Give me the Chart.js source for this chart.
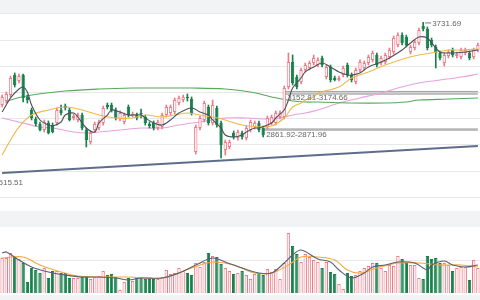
<!DOCTYPE html>
<html>
<head>
<meta charset="utf-8">
<script src="https://cdn.jsdelivr.net/npm/chart.js@4.4.0/dist/chart.umd.min.js"></script>
<style>
  body { margin: 0; width: 480px; height: 300px; overflow: hidden; background: #f2f3f5; }
  #top { position: absolute; left: 0; top: 13px; width: 480px; height: 198px; background: #fff; }
  #bot { position: absolute; left: 0; top: 227px; width: 480px; height: 68px; background: #fff; }
</style>
</head>
<body>
<div id="top"><canvas id="price" width="480" height="198"></canvas></div>
<div id="bot"><canvas id="volume" width="480" height="66"></canvas></div>
<script>
// daily candles (price)
const open = [3065,3097,3146,3307,3259,3307,3130,3025,2952,2912,
  2863,2920,2903,2920,3025,3057,3025,2960,2944,2984,
  2863,2766,2863,2879,2920,3065,3065,3025,2952,2928,
  3049,2984,2984,3000,2968,2912,2920,2879,2887,2984,
  3000,3008,3081,3105,3130,3113,2685,2879,2944,3049,
  2920,3041,2920,2702,2726,2839,2798,2839,2798,2863,
  2887,2920,2879,2887,2920,2920,2968,2968,3210,3412,
  3291,3251,3348,3364,3404,3388,3445,3291,3372,3283,
  3267,3307,3388,3307,3251,3348,3364,3404,3429,3469,
  3404,3412,3453,3493,3550,3630,3614,3493,3525,3566,
  3703,3679,3590,3534,3485,3404,3461,3509,3461,3453,
  3485,3485,3453,3509];
const close = [3130,3154,3283,3227,3299,3122,3105,2960,2912,2863,
  2928,2839,2847,3025,3000,3041,2944,2976,2984,2879,
  2782,2839,2912,2928,3041,3049,3025,2960,3000,2984,
  2984,2992,2960,2992,2920,2895,2879,2928,2984,3049,
  3049,3105,3122,3130,3122,3000,2887,2960,3081,2920,
  3065,2903,2742,2766,2766,2807,2847,2807,2879,2928,
  2920,2863,2823,2960,2968,3000,3000,3202,3412,3243,
  3210,3348,3388,3404,3445,3429,3388,3372,3267,3267,
  3283,3364,3307,3267,3348,3412,3404,3453,3485,3388,
  3445,3469,3509,3606,3630,3566,3550,3534,3574,3671,
  3679,3525,3550,3485,3445,3469,3493,3469,3477,3509,
  3509,3445,3509,3550];
const high = [3146,3170,3299,3324,3315,3315,3146,3041,2968,2928,
  2944,2936,2920,3041,3065,3073,3041,2992,3000,3000,
  2879,2855,2928,2944,3057,3081,3081,3041,3017,3000,
  3065,3008,3000,3033,2984,2928,2936,2944,3000,3065,
  3065,3122,3138,3146,3154,3130,2903,2976,3097,3065,
  3105,3057,2936,2782,2782,2855,2863,2855,2895,2944,
  2936,2936,2895,2976,2984,3017,3017,3218,3485,3469,
  3307,3364,3404,3420,3469,3445,3461,3388,3388,3299,
  3299,3380,3404,3324,3364,3429,3420,3469,3501,3485,
  3461,3485,3525,3622,3647,3647,3630,3550,3590,3687,
  3731.69,3695,3606,3550,3501,3485,3509,3525,3493,3525,
  3525,3501,3525,3566];
const low = [3049,3081,3130,3210,3243,3089,3081,2944,2895,2855,
  2847,2831,2839,2903,2984,3025,2936,2944,2928,2863,
  2726,2750,2847,2863,2903,3033,3008,2944,2936,2912,
  2968,2968,2944,2960,2903,2879,2863,2863,2871,2968,
  2984,2992,3065,3089,3097,2984,2669,2863,2928,2903,
  2903,2887,2637,2661,2710,2790,2782,2790,2782,2847,
  2871,2847,2807,2871,2903,2903,2952,2952,3194,3227,
  3194,3235,3332,3348,3388,3372,3372,3275,3251,3259,
  3259,3291,3291,3251,3235,3332,3348,3388,3412,3372,
  3388,3396,3437,3477,3534,3550,3534,3477,3509,3550,
  3663,3509,3534,3364,3429,3380,3445,3453,3445,3437,
  3469,3429,3437,3493];
const volume = [3500,3500,4000,3600,3400,3000,1100,2500,2300,2000,
  2500,1500,2200,2200,2000,2000,1500,1500,1500,1600,
  1700,1400,1600,1700,2200,1800,1900,1600,300,1100,
  1500,1200,1600,1500,1400,1400,1400,1400,1600,2300,
  1900,2000,2500,2200,2000,1800,3000,2600,3100,4000,
  3700,3600,2900,2500,2200,1900,2000,2200,1800,1400,
  1900,2000,1800,2400,2100,2400,1400,3000,6000,4700,
  3900,3100,3900,3600,3300,3100,2500,3100,2100,1900,
  900,400,2000,1700,1800,2200,2500,2700,3000,3000,
  2500,2200,2800,2700,3700,3400,3000,2800,2800,1500,
  1400,3700,3400,3500,3000,3000,2800,2200,2500,2600,
  2600,1300,3300,2500];

// moving averages (candle index, value)
const ma5Idx = [0,2,4,5,6,7,9,11,12,14,15,17,18,20,22,23,25,26,28,30,31,33,34,36,38,40,42,45,47,49,50,52,53,55,57,58,60,61,64,65,67,68,69,71,72,74,76,78,80,82,83,85,87,90,92,95,97,99,101,102,104,106,107,110,113];
const ma5Val = [3008,3122,3194,3210,3170,3065,2944,2903,2895,2928,2984,3000,2968,2879,2847,2920,2984,3025,3008,2984,2984,2984,2960,2920,2903,2944,3000,3041,3008,2984,2944,2879,2823,2807,2823,2847,2879,2879,2920,2960,3025,3105,3202,3283,3332,3372,3404,3372,3332,3307,3307,3324,3372,3412,3445,3509,3566,3614,3606,3566,3493,3485,3485,3493,3509];
const ma10Idx = [0,2,4,7,11,15,19,23,27,31,34,38,41,44,47,50,53,57,61,64,67,69,71,72,74,75,80,83,87,91,96,99,102,106,109,113];
const ma10Val = [2661,2782,2887,2984,3025,3049,3025,2984,2960,2960,2984,2968,2984,3000,2984,2968,2944,2903,2887,2895,2960,3049,3081,3105,3130,3162,3210,3283,3332,3388,3445,3469,3485,3509,3509,3517];
const ma20Idx = [0,4,9,12,17,20,23,28,33,38,42,47,53,58,63,66,69,72,75,80,85,90,94,99,104,109,113];
const ma20Val = [2960,2928,2887,2879,2847,2839,2847,2863,2879,2879,2903,2928,2960,2960,2952,2960,2984,3000,3025,3081,3122,3162,3202,3243,3267,3291,3315];
const ma60Idx = [1,2,7,15,23,31,38,45,53,59,64,69,72,75,83,91,96,99,106,113];
const ma60Val = [3081,3105,3146,3178,3194,3202,3202,3202,3194,3170,3130,3097,3089,3089,3081,3081,3089,3105,3113,3122];

// volume averages
const vma5Idx = [0,1,4,7,11,15,19,23,27,30,33,38,42,46,50,53,57,61,64,67,69,71,75,78,80,83,86,88,91,94,98,101,102,105,107,110,113];
const vma5Val = [4000,4100,3300,2600,2100,1800,1600,1600,1500,1300,1500,1500,2000,2800,3500,3100,2500,2000,2000,3000,3800,4300,3400,3100,2300,1500,2000,2600,2800,3100,3000,2300,2800,3200,2800,2600,2800];
const vma10Idx = [0,5,9,14,18,23,30,38,45,50,55,60,64,68,71,75,79,82,85,89,94,99,104,109,113];
const vma10Val = [3500,3600,2800,2100,1700,1600,1600,1500,2500,3100,2800,2000,2000,2800,3600,3600,3300,2300,2000,2500,3000,3000,2800,2800,2600];

// support trend line and zones
const trendIdx = [0, 113];
const trendVal = [2515.51, 2734];
const zoneLow = [2861.92, 2871.96];
const zoneHigh = [3152.81, 3174.66];
const zoneLowStart = 62;
const zoneHighStart = 67;
const peakIdx = 100;

const gridPrices = [3800, 3588.6, 3377.2, 3165.8, 2954.4, 2743, 2531.6, 2320.2];

const UP = "#ee7b88";
const DOWN = "#17804c";
const labels = open.map((_, i) => i);
const up = close.map((c, i) => c >= open[i]);
const pts = (idx, val) => idx.map((d, k) => ({ x: d, y: val[k] }));

function maLine(idx, val, color, order) {
  return { type: "line", data: pts(idx, val), borderColor: color, borderWidth: 1.1,
    pointRadius: 0, tension: 0.35, order: order };
}

const labelPlugin = {
  id: "priceLabels",
  afterDatasetsDraw(chart) {
    const ctx = chart.ctx;
    const x = chart.scales.x, y = chart.scales.y;
    ctx.save();
    ctx.font = '8px "Liberation Sans", Arial, sans-serif';
    ctx.fillStyle = "#666";
    ctx.textBaseline = "middle";
    // peak marker
    const px = x.getPixelForValue(peakIdx), py = y.getPixelForValue(high[peakIdx]);
    ctx.strokeStyle = "#777";
    ctx.lineWidth = 1;
    ctx.beginPath();
    ctx.moveTo(px + 2, py + 0.5);
    ctx.lineTo(px + 8, py + 0.5);
    ctx.stroke();
    ctx.fillText(high[peakIdx].toFixed(2), px + 9, py + 1);
    // zones
    ctx.fillText(zoneHigh[0].toFixed(2) + "-" + zoneHigh[1].toFixed(2),
      x.getPixelForValue(zoneHighStart) + 3, y.getPixelForValue(zoneHigh[0]) + 4);
    ctx.fillText(zoneLow[0].toFixed(2) + "-" + zoneLow[1].toFixed(2),
      x.getPixelForValue(zoneLowStart) + 3, y.getPixelForValue(zoneLow[0]) + 5);
    // trend start
    ctx.fillText(trendVal[0].toFixed(2), x.getPixelForValue(trendIdx[0]) - 8, y.getPixelForValue(trendVal[0]) + 10);
    ctx.restore();
  }
};

new Chart(document.getElementById("price"), {
  type: "bar",
  data: {
    labels: labels,
    datasets: [
      { type: "line", data: pts([zoneLowStart, 113], [zoneLow[0], zoneLow[0]]), borderColor: "#a6a6a6", borderWidth: 1, pointRadius: 0, order: 20 },
      { type: "line", data: pts([zoneLowStart, 113], [zoneLow[1], zoneLow[1]]), borderColor: "#a6a6a6", borderWidth: 1, pointRadius: 0, fill: "-1", backgroundColor: "#cfcfcf", order: 20 },
      { type: "line", data: pts([zoneHighStart, 113], [zoneHigh[0], zoneHigh[0]]), borderColor: "#a6a6a6", borderWidth: 1, pointRadius: 0, order: 20 },
      { type: "line", data: pts([zoneHighStart, 113], [zoneHigh[1], zoneHigh[1]]), borderColor: "#a6a6a6", borderWidth: 1, pointRadius: 0, fill: "-1", backgroundColor: "#cfcfcf", order: 20 },
      { type: "line", data: pts(trendIdx, trendVal), borderColor: "#5f6d8c", borderWidth: 2, pointRadius: 0, order: 19 },
      maLine(ma60Idx, ma60Val, "#58a85a", 15),
      maLine(ma20Idx, ma20Val, "#e8a2dc", 15),
      {
        data: labels.map(i => [low[i], high[i]]),
        backgroundColor: labels.map(i => up[i] ? UP : DOWN),
        barThickness: 1, grouped: false, order: 10
      },
      {
        data: labels.map(i => [open[i], close[i]]),
        backgroundColor: labels.map(i => up[i] ? "#fff" : DOWN),
        borderColor: labels.map(i => up[i] ? UP : DOWN),
        borderWidth: 1, borderSkipped: false, minBarLength: 1,
        barPercentage: 0.8, categoryPercentage: 1, grouped: false, order: 9
      },
      maLine(ma10Idx, ma10Val, "#f1b84a", 2),
      maLine(ma5Idx, ma5Val, "#4b505b", 1),
    ],
  },
  options: {
    responsive: false, animation: false, devicePixelRatio: 1,
    layout: { padding: 0 },
    plugins: { legend: { display: false }, tooltip: { enabled: false } },
    scales: {
      x: { display: false },
      y: {
        min: 2209, max: 3808,
        border: { display: false },
        grid: { color: "#e8e8e8", drawTicks: false },
        ticks: { display: false },
        afterBuildTicks: s => { s.ticks = gridPrices.map(v => ({ value: v })); }
      }
    }
  },
  plugins: [labelPlugin]
});

new Chart(document.getElementById("volume"), {
  type: "bar",
  data: {
    labels: labels,
    datasets: [
      {
        data: volume,
        backgroundColor: labels.map(i => up[i] ? "#fdeef0" : DOWN),
        borderColor: labels.map(i => up[i] ? UP : DOWN),
        borderWidth: 1,
        barPercentage: 0.8, categoryPercentage: 1, order: 5
      },
      maLine(vma10Idx, vma10Val, "#f3a93c", 2),
      maLine(vma5Idx, vma5Val, "#5a6070", 1),
    ],
  },
  options: {
    responsive: false, animation: false, devicePixelRatio: 1,
    layout: { padding: 0 },
    plugins: { legend: { display: false }, tooltip: { enabled: false } },
    scales: {
      x: { display: false },
      y: {
        min: 0, max: 6600,
        border: { display: false },
        grid: { color: "#e8e8e8", drawTicks: false },
        ticks: { display: false },
        afterBuildTicks: s => { s.ticks = [{ value: 3300 }]; }
      }
    }
  }
});
</script>
</body>
</html>
